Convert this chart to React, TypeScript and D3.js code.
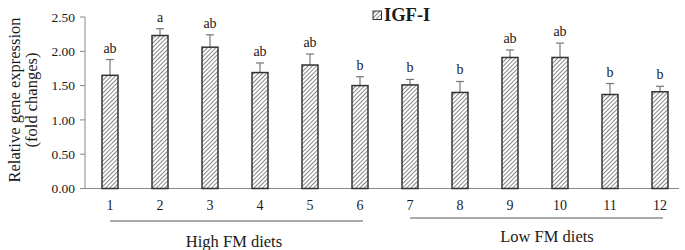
import React from "react";
import * as d3 from "d3";

const categories = ["1", "2", "3", "4", "5", "6", "7", "8", "9", "10", "11", "12"];
const means = [1.65, 2.23, 2.06, 1.69, 1.8, 1.5, 1.51, 1.4, 1.91, 1.91, 1.37, 1.41];
const errors = [0.23, 0.1, 0.18, 0.14, 0.16, 0.13, 0.08, 0.16, 0.11, 0.21, 0.16, 0.08];
const letters = ["ab", "a", "ab", "ab", "ab", "b", "b", "b", "ab", "ab", "b", "b"];
const yTicks = [0, 0.5, 1, 1.5, 2, 2.5];
const groups = [
  { label: "High FM diets", from: "1", to: "6" },
  { label: "Low FM diets", from: "7", to: "12" },
];

export default function App() {
  const W = 685, H = 250;
  const left = 85, right = 685, top = 17, bottom = 188.5;
  const x = d3.scaleBand<string>().domain(categories).range([left, right]).paddingInner(0.68).paddingOuter(0.34);
  const y = d3.scaleLinear().domain([0, 2.5]).range([bottom, top]);
  const bw = x.bandwidth();
  const dark = "#333";
  const ink = "#1a1a1a";
  const tStyle = { fontFamily: "Liberation Serif, Tinos, Times New Roman, DejaVu Serif, serif" };
  return (
    <svg width={W} height={H} style={{ position: "absolute", left: 0, top: 0, ...tStyle }}>
      <defs>
        <pattern id="hatch" patternUnits="userSpaceOnUse" width={3} height={3} patternTransform="rotate(45)">
          <rect width={3} height={3} fill="#fff" />
          <line x1={0} y1={0} x2={0} y2={3} stroke="#444" strokeWidth={1.3} />
        </pattern>
      </defs>
      {/* y axis */}
      <line x1={left} x2={left} y1={top} y2={bottom} stroke="#888" strokeWidth={1} />
      {yTicks.map((t) => (
        <g key={t}>
          <line x1={left - 5} x2={left} y1={y(t)} y2={y(t)} stroke="#888" />
          <text x={left - 10} y={y(t)} dy="0.35em" textAnchor="end" fontSize={13.5} fill={ink} style={tStyle}>
            {t.toFixed(2)}
          </text>
        </g>
      ))}
      {/* x axis */}
      <line x1={left} x2={679} y1={bottom} y2={bottom} stroke="#888" strokeWidth={1} />
      {categories.map((c) => (
        <text key={c} x={x(c)! + bw / 2} y={209.5} textAnchor="middle" fontSize={14} fill={ink} style={tStyle}>
          {c}
        </text>
      ))}
      {/* bars */}
      {categories.map((c, i) => {
        const bx = x(c)!;
        const cx = bx + bw / 2;
        const eTop = y(means[i] + errors[i]);
        return (
          <g key={c}>
            <line x1={cx} x2={cx} y1={y(means[i])} y2={eTop} stroke="#777" strokeWidth={1.2} />
            <line x1={cx - 4} x2={cx + 4} y1={eTop} y2={eTop} stroke="#777" strokeWidth={1.2} />
            <rect x={bx} y={y(means[i])} width={bw} height={bottom - y(means[i])} fill="url(#hatch)" stroke={dark} strokeWidth={1.5} />
            <text x={cx} y={eTop - 7} textAnchor="middle" fontSize={14} fill={ink} style={tStyle}>
              {letters[i]}
            </text>
          </g>
        );
      })}
      {/* group lines */}
      {groups.map((g, i) => {
        const x1 = x(g.from)! + bw / 2;
        const x2 = i === 0 ? 363 : 663;
        const ly = i === 0 ? 221 : 218;
        const ty = i === 0 ? 246.5 : 241.5;
        const tx = i === 0 ? 234 : 547;
        return (
          <g key={g.label}>
            <line x1={x1} x2={x2} y1={ly} y2={ly} stroke="#555" strokeWidth={1} />
            <text x={tx} y={ty} textAnchor="middle" fontSize={16.5} fill={ink} style={tStyle}>
              {g.label}
            </text>
          </g>
        );
      })}
      {/* y title */}
      <g transform="translate(20,100) rotate(-90)">
        <text x={0} y={0} textAnchor="middle" fontSize={16.5} fill={ink} style={tStyle}>Relative gene expression</text>
        <text x={0} y={17} textAnchor="middle" fontSize={16.5} fill={ink} style={tStyle}>(fold changes)</text>
      </g>
      {/* legend */}
      <rect x={373} y={11} width={8.5} height={8.5} fill="url(#hatch)" stroke={dark} strokeWidth={1} />
      <text x={384} y={20.5} fontSize={18.5} fontWeight="bold" fill={ink} style={tStyle}>IGF-I</text>
    </svg>
  );
}
